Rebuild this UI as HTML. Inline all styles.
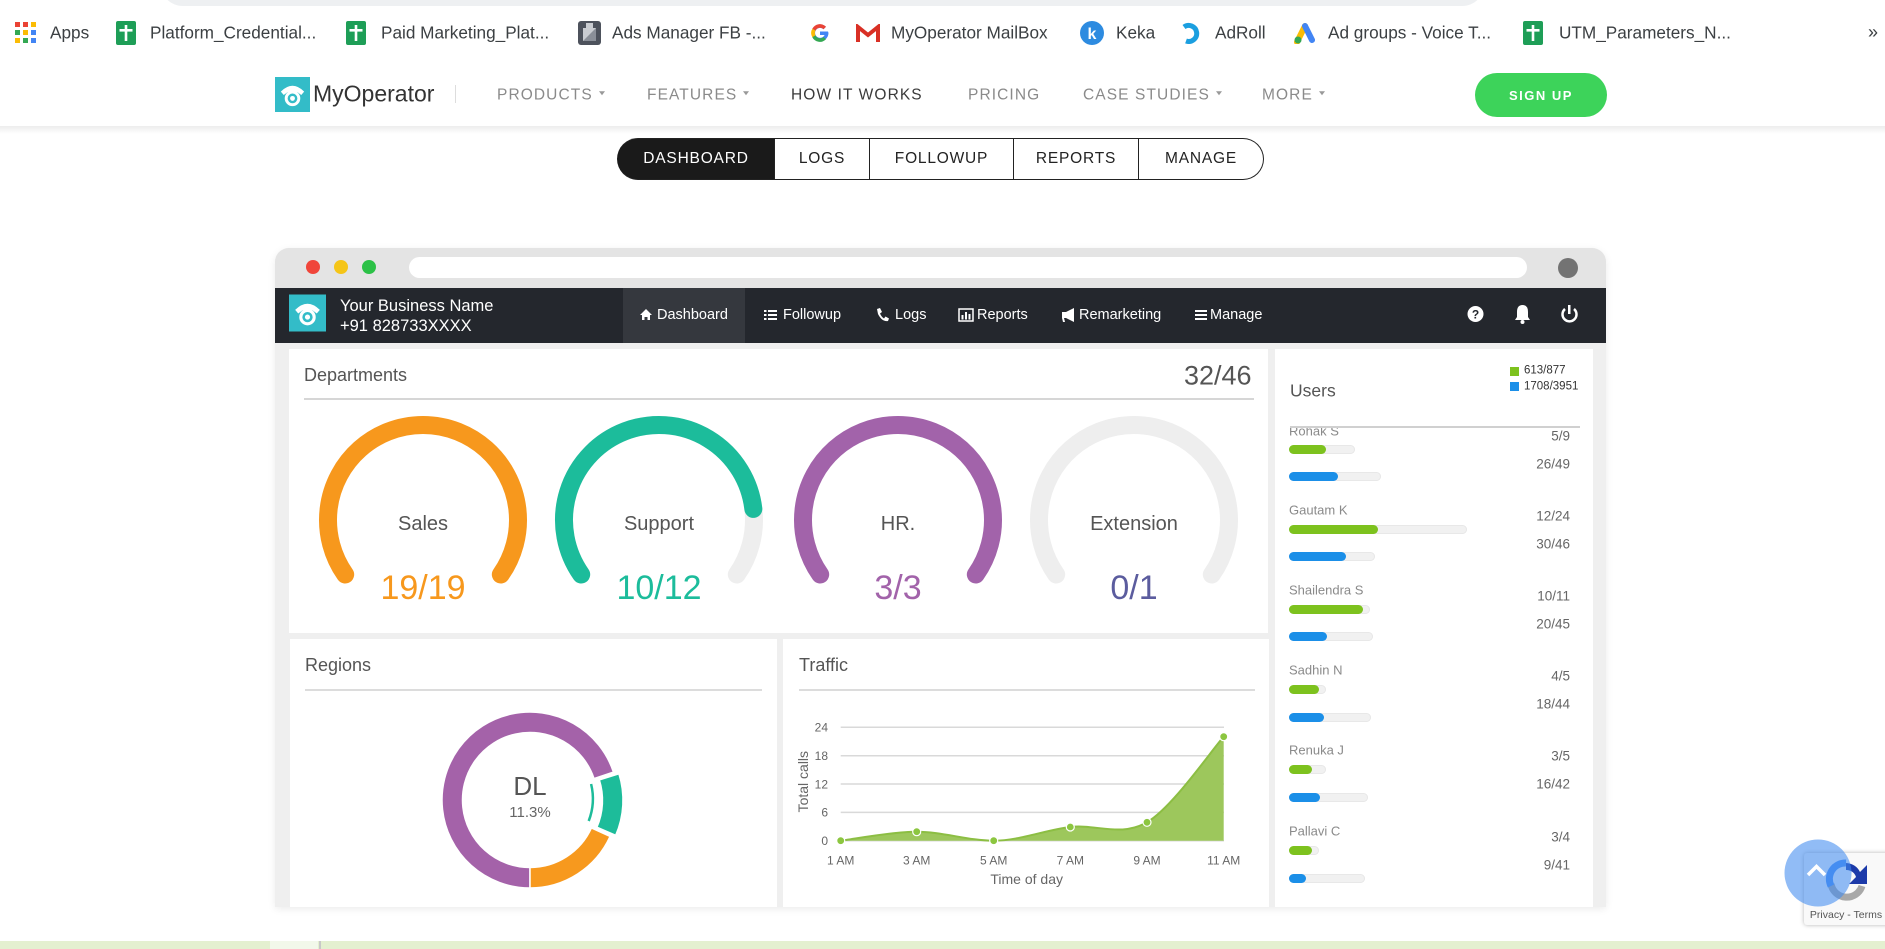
<!DOCTYPE html>
<html><head><meta charset="utf-8">
<style>
*{margin:0;padding:0;box-sizing:border-box}
html,body{width:1885px;height:949px;overflow:hidden;background:#fff;font-family:"Liberation Sans",Arial,sans-serif}
.t{position:absolute;white-space:nowrap;line-height:1;transform:translateY(-50%)}
.a{position:absolute}
.bm{font-size:17.2px;color:#3c4043}
.nv{font-size:15.5px;letter-spacing:1.1px;color:#8a8a8a}
.car{display:inline-block;width:0;height:0;border-left:3.5px solid transparent;border-right:3.5px solid transparent;border-top:4px solid #999;margin-left:6px;vertical-align:middle;position:relative;top:-2px}
.tab{position:absolute;top:138px;height:42px;line-height:40px;text-align:center;font-size:15.5px;letter-spacing:0.8px;color:#222;border-top:1.5px solid #222;border-bottom:1.5px solid #222;border-right:1.5px solid #222}
.hn{font-size:14.5px;color:#fff}
.ttl{font-size:18px;color:#555}
.un{font-size:13px;color:#8a8a8a}
.uv{font-size:13.5px;color:#666;text-align:right;width:120px}
.trk{position:absolute;height:9px;border-radius:5px;background:#f1f1f1;box-shadow:inset 0 0 0 1px #e8e8e8}
.fg{position:absolute;left:0;top:0;height:9px;border-radius:5px}
</style></head><body>
<div style="position:relative;width:1885px;height:949px;overflow:hidden">

<!-- top chrome fragment -->
<div class="a" style="left:160px;top:-40px;width:1325px;height:46px;border-radius:23px;background:#eef0f2"></div>

<!-- bookmarks bar -->
<svg class="a" style="left:15px;top:22px" width="21" height="21">
<rect x="0" y="0" width="5" height="5" fill="#ea4335"/><rect x="8" y="0" width="5" height="5" fill="#ea4335"/><rect x="16" y="0" width="5" height="5" fill="#fbbc05"/>
<rect x="0" y="8" width="5" height="5" fill="#34a853"/><rect x="8" y="8" width="5" height="5" fill="#fbbc05"/><rect x="16" y="8" width="5" height="5" fill="#4285f4"/>
<rect x="0" y="16" width="5" height="5" fill="#fbbc05"/><rect x="8" y="16" width="5" height="5" fill="#34a853"/><rect x="16" y="16" width="5" height="5" fill="#4285f4"/>
</svg>
<div class="t bm" style="left:50px;top:33px">Apps</div>

<svg class="a" style="left:116px;top:21px" width="20" height="24"><rect width="20" height="24" rx="2" fill="#1e9e57"/><rect x="3.5" y="8" width="13" height="2.6" fill="#fff"/><rect x="8.7" y="4" width="2.6" height="16" fill="#fff"/></svg>
<div class="t bm" style="left:150px;top:33px">Platform_Credential...</div>
<svg class="a" style="left:346px;top:21px" width="20" height="24"><rect width="20" height="24" rx="2" fill="#1e9e57"/><rect x="3.5" y="8" width="13" height="2.6" fill="#fff"/><rect x="8.7" y="4" width="2.6" height="16" fill="#fff"/></svg>
<div class="t bm" style="left:381px;top:33px">Paid Marketing_Plat...</div>
<svg class="a" style="left:578px;top:21px" width="23" height="24"><rect width="23" height="24" rx="3" fill="#4d525c"/><rect x="5" y="7" width="13" height="13" fill="#c9ccd1"/><rect x="8" y="2" width="7" height="5" fill="#c9ccd1"/><path d="M5,20 L18,7 L18,20 Z" fill="#8a8f98"/></svg>
<div class="t bm" style="left:612px;top:33px">Ads Manager FB -...</div>
<svg class="a" style="left:809px;top:22px" width="22" height="22" viewBox="0 0 22 22"><path d="M19,9.5 H11 V13 H15.6 A5,5 0 1 1 14.5,7.2 L17,4.8 A8.5,8.5 0 1 0 19.5,11 Z" fill="#4285f4"/><path d="M3.3,6.8 A8.5,8.5 0 0 1 17,4.8 L14.5,7.2 A5,5 0 0 0 6.5,8.6 Z" fill="#ea4335"/><path d="M3.3,6.8 L6.5,8.6 A5,5 0 0 0 6.5,13.4 L3.3,15.2 A8.5,8.5 0 0 1 3.3,6.8Z" fill="#fbbc05"/><path d="M3.3,15.2 L6.5,13.4 A5,5 0 0 0 14.5,15 L17,17.3 A8.5,8.5 0 0 1 3.3,15.2Z" fill="#34a853"/></svg>
<svg class="a" style="left:856px;top:24px" width="24" height="18"><path d="M2,18 V3 L12,11 L22,3 V18" fill="none" stroke="#d93025" stroke-width="4"/></svg>
<div class="t bm" style="left:891px;top:33px">MyOperator MailBox</div>
<svg class="a" style="left:1080px;top:21px" width="24" height="24"><circle cx="12" cy="12" r="12" fill="#2d8be0"/><text x="12" y="18" text-anchor="middle" font-size="16" font-weight="bold" fill="#fff" font-family="Liberation Sans">k</text></svg>
<div class="t bm" style="left:1116px;top:33px">Keka</div>
<svg class="a" style="left:1180px;top:22px" width="22" height="22"><path d="M4,5 A8,8 0 1 1 6,19" fill="none" stroke="#1b9fe0" stroke-width="5"/></svg>
<div class="t bm" style="left:1215px;top:33px">AdRoll</div>
<svg class="a" style="left:1293px;top:22px" width="22" height="22"><path d="M4,20 L12,4" stroke="#fbbc04" stroke-width="6" stroke-linecap="round"/><path d="M12,4 L19,18" stroke="#4285f4" stroke-width="6" stroke-linecap="round"/><circle cx="5" cy="18" r="3.5" fill="#34a853"/></svg>
<div class="t bm" style="left:1328px;top:33px">Ad groups - Voice T...</div>
<svg class="a" style="left:1523px;top:21px" width="20" height="24"><rect width="20" height="24" rx="2" fill="#1e9e57"/><rect x="3.5" y="8" width="13" height="2.6" fill="#fff"/><rect x="8.7" y="4" width="2.6" height="16" fill="#fff"/></svg>
<div class="t bm" style="left:1559px;top:33px">UTM_Parameters_N...</div>
<div class="t bm" style="left:1868px;top:32px;font-size:18px">»</div>

<!-- site nav -->
<svg class="a" style="left:275px;top:77px" width="35" height="35" viewBox="0 0 36 36"><rect width="36" height="36" fill="#33bcc8"/><path d="M6,15 Q18,3 30,15 L27,18.5 L23,15.5 L13,15.5 L9,18.5 Z" fill="#fff"/><circle cx="18" cy="22" r="8" fill="#fff"/><circle cx="18" cy="22" r="5" fill="#33bcc8"/><circle cx="18" cy="22" r="2.5" fill="#fff"/></svg>
<div class="t" style="left:313px;top:94px;font-size:23px;color:#333">MyOperator</div>
<div class="a" style="left:455px;top:85px;width:1px;height:18px;background:#ddd"></div>
<div class="t nv" style="left:497px;top:95px">PRODUCTS<span class="car"></span></div>
<div class="t nv" style="left:647px;top:95px">FEATURES<span class="car"></span></div>
<div class="t nv" style="left:791px;top:95px;color:#3a3a3a">HOW IT WORKS</div>
<div class="t nv" style="left:968px;top:95px">PRICING</div>
<div class="t nv" style="left:1083px;top:95px">CASE STUDIES<span class="car"></span></div>
<div class="t nv" style="left:1262px;top:95px">MORE<span class="car"></span></div>
<div class="a" style="left:1475px;top:73px;width:132px;height:44px;border-radius:22px;background:#3dd35a;color:#fff;font-weight:bold;font-size:13px;letter-spacing:1.5px;text-align:center;line-height:45px">SIGN UP</div>
<div class="a" style="left:0;top:126px;width:1885px;height:8px;background:linear-gradient(#ededed,#fff)"></div>

<!-- tabs -->
<div class="tab" style="left:617px;width:158px;background:#1a1a1a;color:#fff;border-radius:21px 0 0 21px;border-left:1.5px solid #1a1a1a">DASHBOARD</div>
<div class="tab" style="left:775px;width:95px">LOGS</div>
<div class="tab" style="left:870px;width:144px">FOLLOWUP</div>
<div class="tab" style="left:1014px;width:125px">REPORTS</div>
<div class="tab" style="left:1139px;width:125px;border-radius:0 21px 21px 0">MANAGE</div>

<!-- mockup frame -->
<div class="a" style="left:275px;top:248px;width:1331px;height:659px;background:#efefef;border-radius:14px 14px 0 0;box-shadow:0 2px 8px rgba(0,0,0,0.08)"></div>
<div class="a" style="left:275px;top:248px;width:1331px;height:40px;background:#e4e4e4;border-radius:14px 14px 0 0"></div>
<div class="a" style="left:306px;top:260px;width:14px;height:14px;border-radius:7px;background:#f0453a"></div>
<div class="a" style="left:334px;top:260px;width:14px;height:14px;border-radius:7px;background:#f5c518"></div>
<div class="a" style="left:362px;top:260px;width:14px;height:14px;border-radius:7px;background:#2cc147"></div>
<div class="a" style="left:409px;top:257px;width:1118px;height:21px;border-radius:11px;background:#fff"></div>
<div class="a" style="left:1558px;top:258px;width:20px;height:20px;border-radius:10px;background:#737373"></div>

<!-- dark header -->
<div class="a" style="left:275px;top:288px;width:1331px;height:55px;background:#24272d"></div>
<div class="a" style="left:623px;top:288px;width:122px;height:55px;background:#35383e"></div>
<svg class="a" style="left:289px;top:294px" width="37" height="38" viewBox="0 0 36 36"><rect width="36" height="36" fill="#33bcc8"/><path d="M6,15 Q18,3 30,15 L27,18.5 L23,15.5 L13,15.5 L9,18.5 Z" fill="#fff"/><circle cx="18" cy="22" r="8" fill="#fff"/><circle cx="18" cy="22" r="5" fill="#33bcc8"/><circle cx="18" cy="22" r="2.5" fill="#fff"/></svg>
<div class="t" style="left:340px;top:306px;font-size:16.5px;color:#fff">Your Business Name</div>
<div class="t" style="left:340px;top:326px;font-size:16.5px;color:#fff">+91 828733XXXX</div>
<div class="t hn" style="left:657px;top:315px">Dashboard</div>
<div class="t hn" style="left:783px;top:315px">Followup</div>
<div class="t hn" style="left:895px;top:315px">Logs</div>
<div class="t hn" style="left:977px;top:315px">Reports</div>
<div class="t hn" style="left:1079px;top:315px">Remarketing</div>
<div class="t hn" style="left:1210px;top:315px">Manage</div>

<!-- panels -->
<div class="a" style="left:289px;top:349px;width:979px;height:284px;background:#fff"></div>
<div class="a" style="left:290px;top:639px;width:487px;height:268px;background:#fff"></div>
<div class="a" style="left:783px;top:639px;width:486px;height:268px;background:#fff"></div>
<div class="a" style="left:1275px;top:349px;width:318px;height:558px;background:#fff"></div>

<!-- Departments -->
<div class="t ttl" style="left:304px;top:375px">Departments</div>
<div class="t" style="left:1184px;top:376px;font-size:27px;color:#555">32/46</div>
<div class="a" style="left:304px;top:398px;width:950px;height:2px;background:#d6d6d6"></div>

<!-- Regions / Traffic headers -->
<div class="t ttl" style="left:305px;top:665px">Regions</div>
<div class="a" style="left:305px;top:689px;width:457px;height:2px;background:#dcdcdc"></div>
<div class="t ttl" style="left:799px;top:665px">Traffic</div>
<div class="a" style="left:799px;top:689px;width:456px;height:2px;background:#dcdcdc"></div>

<!-- Users -->
<div class="t" style="left:1290px;top:391px;font-size:17.5px;color:#555">Users</div>
<div class="a" style="left:1510px;top:367px;width:9px;height:9px;background:#7dc21e"></div>
<div class="t" style="left:1524px;top:371px;font-size:11.5px;color:#333">613/877</div>
<div class="a" style="left:1510px;top:382px;width:9px;height:9px;background:#1b8fe8"></div>
<div class="t" style="left:1524px;top:387px;font-size:11.5px;color:#333">1708/3951</div>

<div class="a" style="left:1275px;top:428px;width:318px;height:479px;overflow:hidden">
  <div class="t un" style="left:14px;top:3px">Rohak S</div>
  <div class="t uv" style="left:175px;top:8px">5/9</div>
  <div class="trk" style="left:14px;top:17px;width:66px"><div class="fg" style="width:37px;background:#7dc21e"></div></div>
  <div class="t uv" style="left:175px;top:36px">26/49</div>
  <div class="trk" style="left:14px;top:44px;width:92px"><div class="fg" style="width:49px;background:#1b8fe8"></div></div>
  <div class="t un" style="left:14px;top:82px">Gautam K</div>
  <div class="t uv" style="left:175px;top:88px">12/24</div>
  <div class="trk" style="left:14px;top:97px;width:178px"><div class="fg" style="width:89px;background:#7dc21e"></div></div>
  <div class="t uv" style="left:175px;top:116px">30/46</div>
  <div class="trk" style="left:14px;top:124px;width:86px"><div class="fg" style="width:57px;background:#1b8fe8"></div></div>
  <div class="t un" style="left:14px;top:162px">Shailendra S</div>
  <div class="t uv" style="left:175px;top:168px">10/11</div>
  <div class="trk" style="left:14px;top:177px;width:81px"><div class="fg" style="width:74px;background:#7dc21e"></div></div>
  <div class="t uv" style="left:175px;top:196px">20/45</div>
  <div class="trk" style="left:14px;top:204px;width:84px"><div class="fg" style="width:38px;background:#1b8fe8"></div></div>
  <div class="t un" style="left:14px;top:242px">Sadhin N</div>
  <div class="t uv" style="left:175px;top:248px">4/5</div>
  <div class="trk" style="left:14px;top:257px;width:37px"><div class="fg" style="width:30px;background:#7dc21e"></div></div>
  <div class="t uv" style="left:175px;top:276px">18/44</div>
  <div class="trk" style="left:14px;top:285px;width:82px"><div class="fg" style="width:35px;background:#1b8fe8"></div></div>
  <div class="t un" style="left:14px;top:322px">Renuka J</div>
  <div class="t uv" style="left:175px;top:328px">3/5</div>
  <div class="trk" style="left:14px;top:337px;width:37px"><div class="fg" style="width:23px;background:#7dc21e"></div></div>
  <div class="t uv" style="left:175px;top:356px">16/42</div>
  <div class="trk" style="left:14px;top:365px;width:79px"><div class="fg" style="width:31px;background:#1b8fe8"></div></div>
  <div class="t un" style="left:14px;top:403px">Pallavi C</div>
  <div class="t uv" style="left:175px;top:409px">3/4</div>
  <div class="trk" style="left:14px;top:418px;width:30px"><div class="fg" style="width:23px;background:#7dc21e"></div></div>
  <div class="t uv" style="left:175px;top:437px">9/41</div>
  <div class="trk" style="left:14px;top:446px;width:76px"><div class="fg" style="width:17px;background:#1b8fe8"></div></div>
</div>
<div class="a" style="left:1290px;top:426px;width:290px;height:2px;background:#d0d0d0"></div>

<!-- bottom band -->
<div class="a" style="left:0;top:941px;width:1885px;height:8px;background:#e4f0d0"></div>
<div class="a" style="left:270px;top:941px;width:48px;height:8px;background:#f2f8ea"></div>
<div class="a" style="left:319px;top:941px;width:2px;height:8px;background:#c8c8c8"></div>

<!-- charts overlay -->
<svg class="a" style="left:0;top:0" width="1885" height="949" font-family="Liberation Sans, Arial, sans-serif">
  <g fill="#fff">
    <path d="M640,315 L646,309 L652,315 L650,315 L650,320 L647.5,320 L647.5,317 L644.5,317 L644.5,320 L642,320 L642,315 Z"/>
    <rect x="764" y="310" width="2.5" height="2" /><rect x="768" y="310" width="9" height="2"/>
    <rect x="764" y="314" width="2.5" height="2" /><rect x="768" y="314" width="9" height="2"/>
    <rect x="764" y="318" width="2.5" height="2" /><rect x="768" y="318" width="9" height="2"/>
    <path d="M877,309 L880,308 L882,312 L880,313.5 Q881.5,317 884,318.5 L885.5,316.5 L889,318.5 L888,321 Q882,322 878,314 Z"/>
    <rect x="959" y="309" width="14" height="12" fill="none" stroke="#fff" stroke-width="1.5"/>
    <rect x="961.5" y="315" width="2" height="4.5"/><rect x="965" y="312" width="2" height="7.5"/><rect x="968.5" y="314" width="2" height="5.5"/>
    <path d="M1062,312 L1066,312 L1074,308 L1074,322 L1066,318 L1064,318 L1065,322 L1063,322 L1062,318 Z"/>
    <rect x="1195" y="310" width="12" height="2"/><rect x="1195" y="314" width="12" height="2"/><rect x="1195" y="318" width="12" height="2"/>
    <circle cx="1475.5" cy="314" r="8"/>
    <path d="M1522.5,305 Q1528,305 1528,312 L1528,317 L1530,320 L1515,320 L1517,317 L1517,312 Q1517,305 1522.5,305 Z"/>
    <circle cx="1522.5" cy="322" r="2"/>
    <path d="M1565,309 A7,7 0 1 0 1574,309" fill="none" stroke="#fff" stroke-width="2.5"/>
    <rect x="1568" y="305" width="2.5" height="9"/>
  </g>
  <text x="1475.5" y="318.5" text-anchor="middle" font-size="12" font-weight="bold" fill="#24272d">?</text>

  <g fill="none" stroke-width="18" stroke-linecap="round">
    <path d="M345.18,574.49 A95,95 0 1 1 500.82,574.49" stroke="#f7981d"/>
    <path d="M581.18,574.49 A95,95 0 1 1 736.82,574.49" stroke="#eeeeee"/>
    <path d="M581.18,574.49 A95,95 0 1 1 753.35,508.92" stroke="#1cbc9b"/>
    <path d="M820.18,574.49 A95,95 0 1 1 975.82,574.49" stroke="#a263aa"/>
    <path d="M1056.18,574.49 A95,95 0 1 1 1211.82,574.49" stroke="#eeeeee"/>
  </g>
  <g font-size="20" fill="#555" text-anchor="middle">
    <text x="423" y="530">Sales</text>
    <text x="659" y="530">Support</text>
    <text x="898" y="530">HR.</text>
    <text x="1134" y="530">Extension</text>
  </g>
  <g font-size="34" text-anchor="middle">
    <text x="423" y="599" fill="#f7981d">19/19</text>
    <text x="659" y="599" fill="#1cbc9b">10/12</text>
    <text x="898" y="599" fill="#a263aa">3/3</text>
    <text x="1134" y="599" fill="#5b5c9e">0/1</text>
  </g>

  <g stroke="#fff" stroke-width="1.5">
    <path d="M530,888 A88,88 0 1 1 613.45,772.08 L594.01,778.58 A67.5,67.5 0 1 0 530,867.5 Z" fill="#a462a9"/>
    <path d="M610.08,836.49 A88,88 0 0 1 530,888 L530,867.5 A67.5,67.5 0 0 0 591.43,827.99 Z" fill="#f7991e"/>
    <path d="M618.92,773.80 A88,88 0 0 1 615.69,835.35 L596.89,827.17 A67.5,67.5 0 0 0 599.36,779.96 Z" fill="#1dbc9a"/>
  </g>
  <path d="M591.1,784 A62,62 0 0 1 588.7,821" fill="none" stroke="#1dbc9a" stroke-width="2.5"/>
  <text x="530" y="795" text-anchor="middle" font-size="26" fill="#555">DL</text>
  <text x="530" y="817" text-anchor="middle" font-size="15" fill="#666">11.3%</text>

  <g stroke="#d9d9d9" stroke-width="1.5">
    <line x1="840.7" y1="727.3" x2="1224" y2="727.3"/>
    <line x1="840.7" y1="755.7" x2="1224" y2="755.7"/>
    <line x1="840.7" y1="784" x2="1224" y2="784"/>
    <line x1="840.7" y1="812.4" x2="1224" y2="812.4"/>
    <line x1="840.7" y1="840.7" x2="1224" y2="840.7"/>
  </g>
  <path d="M840.7,840.7 C853.4,839.2 891.2,831.7 916.7,831.7 C942.2,831.7 968.1,840.7 993.7,840.7 C1019.3,840.7 1044.75,830.07 1070.3,827 C1095.85,823.93 1121.43,837.35 1147,822.3 C1172.57,807.25 1210.9,751 1223.7,736.7 L1223.7,840.7 Z" fill="#9dc75c"/>
  <path d="M840.7,840.7 C853.4,839.2 891.2,831.7 916.7,831.7 C942.2,831.7 968.1,840.7 993.7,840.7 C1019.3,840.7 1044.75,830.07 1070.3,827 C1095.85,823.93 1121.43,837.35 1147,822.3 C1172.57,807.25 1210.9,751 1223.7,736.7" fill="none" stroke="#8cbe43" stroke-width="2"/>
  <g fill="#8cc640" stroke="#fff" stroke-width="1.2">
    <circle cx="840.7" cy="840.7" r="4"/><circle cx="916.7" cy="831.7" r="4"/><circle cx="993.7" cy="840.7" r="4"/>
    <circle cx="1070.3" cy="827" r="4"/><circle cx="1147" cy="822.3" r="4"/><circle cx="1223.7" cy="736.7" r="4"/>
  </g>
  <g font-size="12" fill="#666" text-anchor="end">
    <text x="828" y="731.5">24</text><text x="828" y="760">18</text><text x="828" y="788.3">12</text>
    <text x="828" y="816.6">6</text><text x="828" y="845">0</text>
  </g>
  <g font-size="12" fill="#666" text-anchor="middle">
    <text x="840.7" y="864.5">1 AM</text><text x="916.7" y="864.5">3 AM</text><text x="993.7" y="864.5">5 AM</text>
    <text x="1070.3" y="864.5">7 AM</text><text x="1147" y="864.5">9 AM</text><text x="1223.7" y="864.5">11 AM</text>
  </g>
  <text x="1026.7" y="884" text-anchor="middle" font-size="14" fill="#666">Time of day</text>
  <text transform="translate(808,781.7) rotate(-90)" text-anchor="middle" font-size="14" fill="#666">Total calls</text>

  <rect x="1804" y="853" width="90" height="72" rx="3" fill="#f9f9f9" style="filter:drop-shadow(0 0 2px rgba(0,0,0,0.3))"/>
  <path d="M1831,884 A16,16 0 0 0 1862,886" fill="none" stroke="#a8a8a8" stroke-width="7"/>
  <path d="M1831,886 A16,16 0 0 1 1846,863" fill="none" stroke="#4a90f2" stroke-width="7"/>
  <path d="M1846,863 A16,16 0 0 1 1860,872 L1867,865 L1867,884 L1849,884 L1856,877 A10,10 0 0 0 1846,870 Z" fill="#1c3aa9"/>
  <text x="1846" y="918" text-anchor="middle" font-size="10.5" fill="#555">Privacy - Terms</text>
  <circle cx="1818" cy="873" r="33.5" fill="rgba(66,140,240,0.58)"/>
  <path d="M1808,875 L1816.5,866.5 L1825,875" fill="none" stroke="#fff" stroke-width="3.5"/>
</svg>

</div>
</body></html>
